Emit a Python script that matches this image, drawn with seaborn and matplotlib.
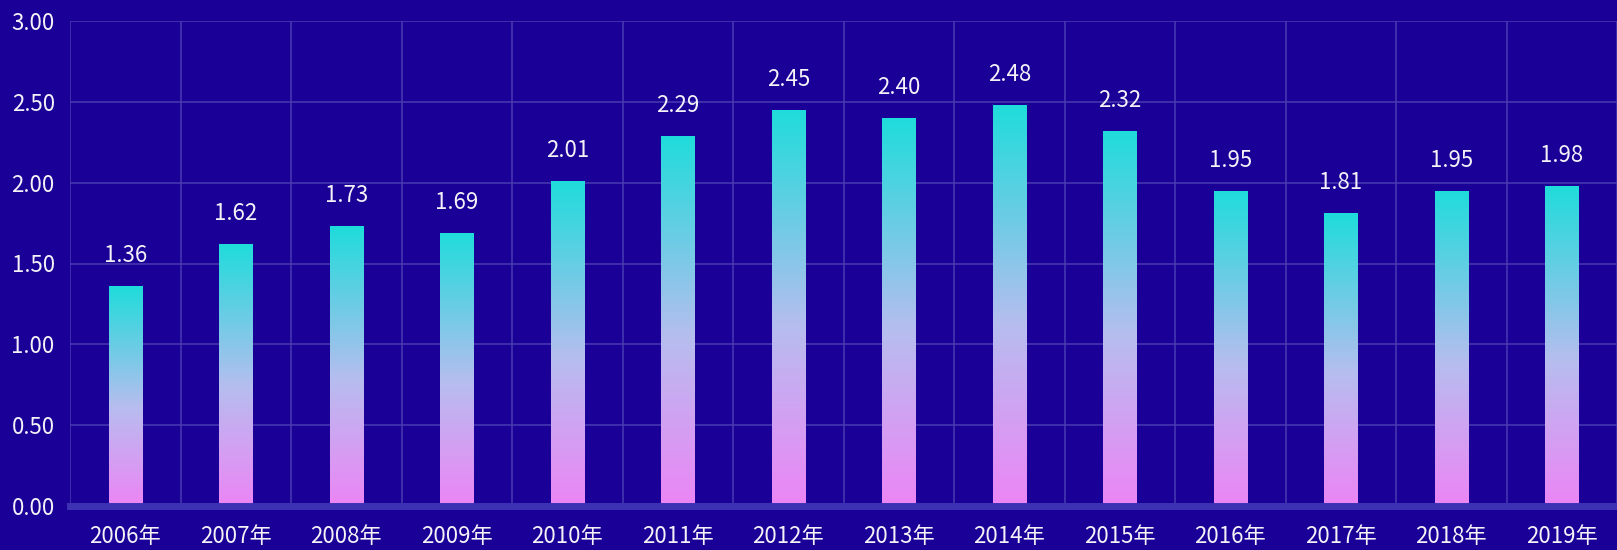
import matplotlib
matplotlib.use('Agg')
import matplotlib.pyplot as plt
import numpy as np
import pandas as pd
import seaborn as sns
from matplotlib.colors import LinearSegmentedColormap
from matplotlib.ticker import FuncFormatter

years = ['2006年', '2007年', '2008年', '2009年', '2010年', '2011年', '2012年',
         '2013年', '2014年', '2015年', '2016年', '2017年', '2018年', '2019年']
values = [1.36, 1.62, 1.73, 1.69, 2.01, 2.29, 2.45, 2.40, 2.48, 2.32, 1.95, 1.81, 1.95, 1.98]

bg = '#1a0096'
grid_col = '#4a3cb2'
txt = '#f2f2f7'

sns.set_style('dark')
plt.rcParams['font.family'] = ['Noto Sans CJK SC', 'DejaVu Sans']

df = pd.DataFrame({'year': years, 'value': values})

fig = plt.figure(figsize=(16.17, 5.5), dpi=100, facecolor=bg)
ax = fig.add_axes([70 / 1617, 1 - 506 / 550, 1 - 70 / 1617, 485 / 550])
ax.set_facecolor(bg)

sns.barplot(data=df, x='year', y='value', ax=ax, width=0.3, color='#1fdcdb', saturation=1)

cmap = LinearSegmentedColormap.from_list('g', [(0, '#ec85f5'), (0.45, '#b7bdef'), (1, '#1fdcdb')])
grad = np.linspace(0, 1, 256).reshape(-1, 1)
for p in ax.patches:
    x0, y0 = p.get_x(), p.get_y()
    w, h = p.get_width(), p.get_height()
    im = ax.imshow(grad, cmap=cmap, origin='lower', aspect='auto',
                   extent=[x0, x0 + w, y0, y0 + h], zorder=3)
    im.set_clip_path(p)
    p.set_alpha(0)
    ax.annotate(f'{h:.2f}', (x0 + w / 2, h), xytext=(0, 22), textcoords='offset points',
                ha='center', va='center', color=txt, fontsize=16)

ax.set_xlim(-0.5, len(years) - 0.5)
ax.set_ylim(0, 3)
ax.set_yticks(np.arange(0, 3.01, 0.5))
ax.yaxis.set_major_formatter(FuncFormatter(lambda v, pos: f'{v:.2f}'))
ax.set_xticks(np.arange(-0.5, len(years), 1), minor=True)

ax.grid(True, axis='y', which='major', color=grid_col, linewidth=1.1)
ax.grid(True, axis='x', which='minor', color=grid_col, linewidth=1.1)
ax.grid(False, axis='x', which='major')
ax.set_axisbelow(True)

ax.tick_params(axis='both', which='both', length=0, colors=txt, labelsize=16)
ax.tick_params(axis='y', pad=11)
ax.tick_params(axis='x', pad=14)
ax.set_xlabel('')
ax.set_ylabel('')
for s in ['top', 'right', 'left']:
    ax.spines[s].set_visible(False)
ax.spines['bottom'].set_color('#3d32b4')
ax.spines['bottom'].set_linewidth(5)
ax.spines['bottom'].set_zorder(4)

fig.savefig('out.png', dpi=100, facecolor=bg)
